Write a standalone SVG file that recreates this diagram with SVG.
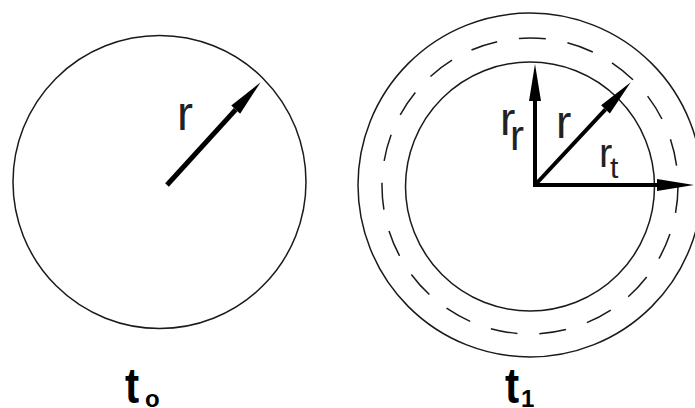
<svg xmlns="http://www.w3.org/2000/svg" width="695" height="408" viewBox="0 0 695 408">
<defs>
<style>
.circ{fill:none;stroke:#1a1a1a;stroke-width:1.5}
.dash{fill:none;stroke:#1a1a1a;stroke-width:1.5;stroke-dasharray:27 22}
.shaft{stroke:#000;stroke-linecap:butt;fill:none}
.lbl{font-family:"Liberation Sans",Arial,sans-serif;fill:#222}
.tl{font-family:"Liberation Sans",Arial,sans-serif;font-weight:bold;fill:#000}
</style>
<marker id="ah" markerUnits="userSpaceOnUse" markerWidth="40" markerHeight="14" refX="0" refY="6" orient="auto" overflow="visible">
<path d="M0,0 L37,6 L0,12 z" fill="#000"/>
</marker>
</defs>
<rect width="695" height="408" fill="#fff"/>
<g id="node-t0">
<circle class="circ" cx="159.5" cy="182" r="146.5"/>
<text class="lbl" x="177" y="130" font-size="48">r</text>
<text class="tl" x="125" y="403" font-size="50" transform="translate(125 0) scale(0.85 1) translate(-125 0)">t</text>
<text class="tl" x="145" y="407" font-size="24">o</text>
</g>
<g id="node-t1">
<circle class="circ" cx="530" cy="185" r="172"/>
<circle class="dash" cx="530" cy="186" r="148"/>
<circle class="circ" cx="530" cy="186.5" r="124.5"/>
<text class="lbl" x="500" y="135" font-size="46">r</text>
<text class="lbl" x="510" y="150" font-size="42">r</text>
<text class="lbl" x="556" y="138" font-size="46">r</text>
<text class="lbl" x="599" y="167" font-size="40">r</text>
<text class="lbl" x="610" y="178" font-size="30">t</text>
<text class="tl" x="505" y="403" font-size="50" transform="translate(505 0) scale(0.85 1) translate(-505 0)">t</text>
<text class="tl" x="521" y="407" font-size="24">1</text>
</g>
<g id="connectors">
<line class="shaft" x1="167" y1="185" x2="235.7" y2="109.6" stroke-width="5" marker-end="url(#ah)"/>
<line class="shaft" x1="535" y1="187" x2="535" y2="101" stroke-width="4" marker-end="url(#ah)"/>
<line class="shaft" x1="535" y1="185" x2="605.5" y2="109.4" stroke-width="4" marker-end="url(#ah)"/>
<line class="shaft" x1="533" y1="185" x2="657" y2="185" stroke-width="4" marker-end="url(#ah)"/>
</g>
</svg>
